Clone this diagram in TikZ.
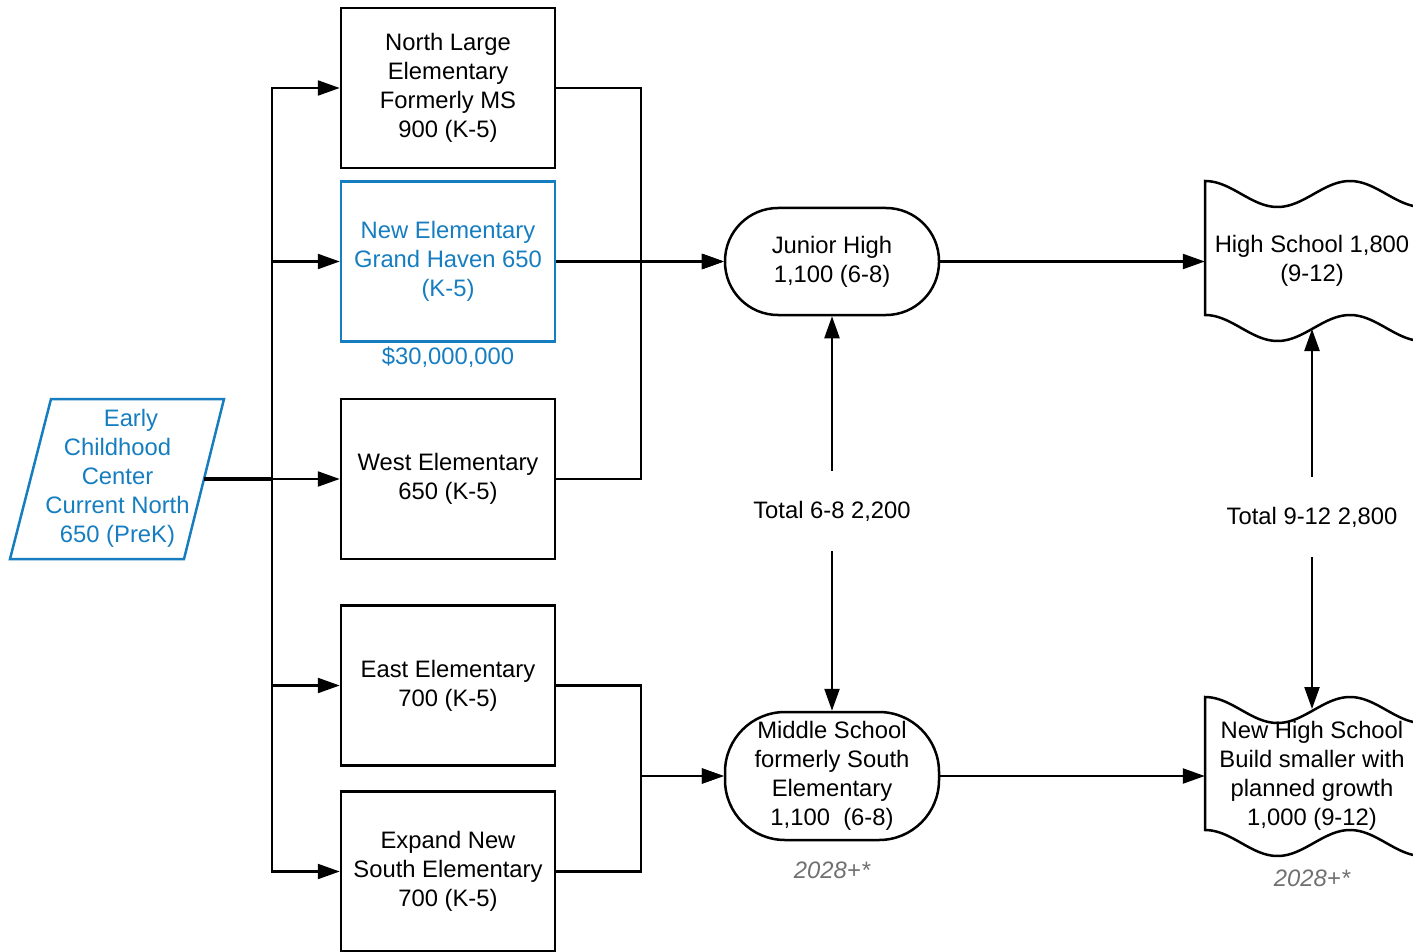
\documentclass[tikz,border=0pt]{standalone}
\usepackage{fontspec}
\setmainfont{Liberation Sans}
\usetikzlibrary{arrows.meta}
\definecolor{lblue}{RGB}{22,126,192}
\definecolor{lgray}{RGB}{112,112,112}
\begin{document}
\begin{tikzpicture}[x=1pt,y=-1pt,
  txt/.style={font=\fontsize{23.8}{29}\selectfont, align=center, inner sep=0pt},
  box/.style={txt, draw, line width=2.5pt, minimum width=214pt, minimum height=160pt},
  stadium/.style={txt, draw, line width=2.5pt, minimum width=214pt, rounded corners=#1},
  arr/.style={line width=2.3pt, -{Triangle[length=22pt,width=15pt]}},
  note/.style={font=\fontsize{23.8}{29}\selectfont\itshape, text=lgray, inner sep=0pt},
  wave/.style={line width=2.5pt, fill=white}
]
\useasboundingbox (0,0) rectangle (1413,952);

% Early Childhood Center (parallelogram)
\draw[line width=2.5pt, lblue] (51,399) -- (224,399) -- (184,559) -- (10,559) -- cycle;
\node[txt, text=lblue] (ecc) at (117.5,478) {\hspace*{27pt}Early\\Childhood\\Center\\Current North\\650 (PreK)};
\coordinate (eccE) at (204,479);

% Elementary boxes
\node[box] (nl) at (448,88) {North Large\\Elementary\\Formerly MS\\900 (K-5)};
\node[box, draw=lblue, text=lblue] (ne) at (448,261.5) {New Elementary\\Grand Haven 650\\(K-5)};
\node[txt, text=lblue] (cost) at (448,357) {\$30,000,000};
\node[box] (we) at (448,479) {West Elementary\\650 (K-5)};
\node[box] (ea) at (448,685.5) {East Elementary\\700 (K-5)};
\node[box] (so) at (448,871.5) {Expand New\\South Elementary\\700 (K-5)};

% Junior high / middle school
\node[stadium=53pt, minimum height=107pt] (jh) at (832,261.5) {Junior High\\1,100 (6-8)};
\node[stadium=60pt, minimum height=128pt] (ms) at (832,776) {Middle School\\formerly South\\Elementary\\1,100\ \ (6-8)};
\node[note] (n1) at (832,870) {2028+*};

% High school flag shapes
\draw[wave] plot[domain=1205:1420,samples=80] (\x,{181+13*(1-cos((\x-1205)*2.48276))})
  -- plot[domain=1420:1205,samples=80] (\x,{315+13*(1-cos((\x-1205)*2.48276))}) -- cycle;
\node[txt, minimum width=214pt, minimum height=120pt] (hs) at (1312,261) {High School 1,800\\(9-12)};
\coordinate (hsB) at (1312,329);

\draw[wave] plot[domain=1205:1420,samples=80] (\x,{697+13*(1-cos((\x-1205)*2.48276))})
  -- plot[domain=1420:1205,samples=80] (\x,{830+13*(1-cos((\x-1205)*2.48276))}) -- cycle;
\node[txt, minimum width=214pt, minimum height=120pt] (nhs) at (1312,775.5) {New High School\\Build smaller with\\planned growth\\1,000 (9-12)};
\coordinate (nhsT) at (1312,709);
\node[note] (n2) at (1312,878) {2028+*};

% Totals
\node[txt, minimum height=80pt] (t68) at (832,511) {Total 6-8 2,200};
\node[txt, minimum height=80pt] (t912) at (1312,517) {Total 9-12 2,800};

% Connectors: ECC to elementary schools
\draw[line width=3.6pt] (eccE) -- (272,479);
\foreach \b in {nl,ne,ea,so} \draw[arr] (eccE) -- (272,479) |- (\b.west);
\draw[arr] (eccE) -- (we.west);

% Elementary to junior high / middle school
\draw[arr] (nl.east) -- ++(85,0) |- (jh.west);
\draw[arr] (ne.east) -- (jh.west);
\draw[arr] (we.east) -- ++(85,0) |- (jh.west);
\draw[arr] (ea.east) -- ++(85,0) |- (ms.west);
\draw[arr] (so.east) -- ++(85,0) |- (ms.west);

% To high schools
\draw[arr] (jh.east) -- (jh.east -| hs.west);
\draw[arr] (ms.east) -- (ms.east -| nhs.west);

% Totals arrows
\draw[arr] (t68.north) -- (jh.south);
\draw[arr] (t68.south) -- (ms.north);
\draw[arr] (t912.north) -- (hsB);
\draw[arr] (t912.south) -- (nhsT);
\end{tikzpicture}
\end{document}
